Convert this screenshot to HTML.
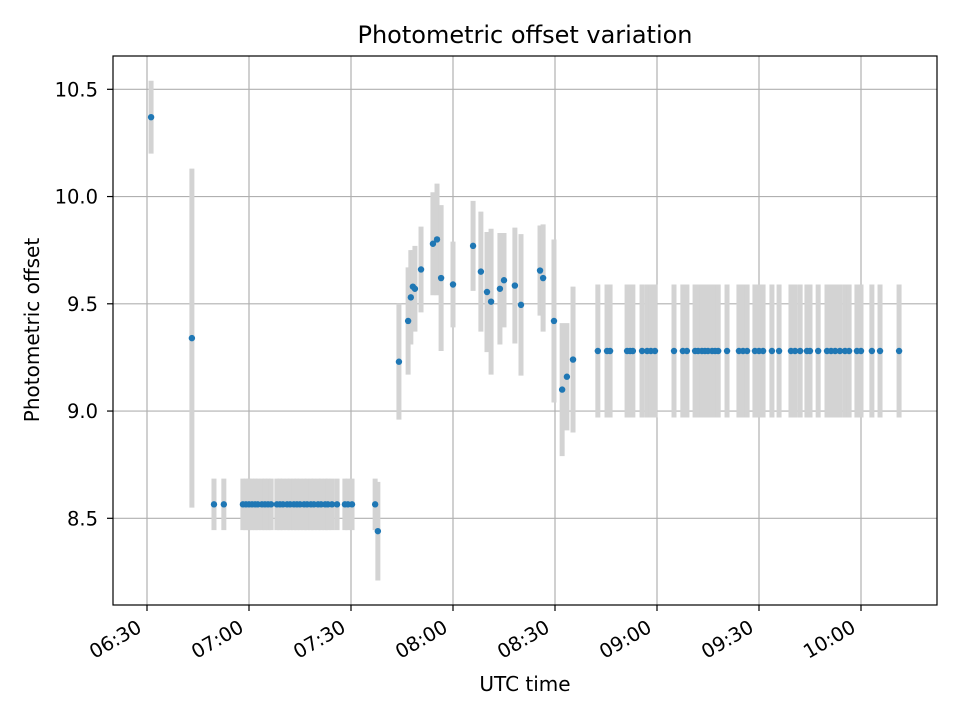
<!DOCTYPE html>
<html><head><meta charset="utf-8"><style>
body{margin:0;background:#fff}
svg text{font-family:"DejaVu Sans","Liberation Sans",sans-serif;fill:#000}
</style></head><body>
<svg id="chart" width="960" height="720" xmlns="http://www.w3.org/2000/svg">
<rect width="960" height="720" fill="#fff"/>
<g id="grid"></g><g id="errs"></g><g id="pts"></g><g id="axes"></g>
</svg>
<script>
// minutes after 06:30 UTC
const times=[1.2,13.2,19.7,22.6,
28.2,29.1,30,30.9,31.8,32.6,33.8,34.7,35.6,36.5,38.2,39.1,40,41.2,42.1,43.2,44.1,45,46.2,47.1,48.2,49.1,50.3,51.2,52.4,53.2,54.4,55.9,58.2,59.1,60.3,
67.1,67.9,
74.1,76.8,77.6,78.2,78.8,80.6,84.1,85.3,86.5,90,95.9,98.2,100,101.2,103.8,105,108.2,110,115.6,116.5,119.7,122.1,123.5,125.3,
132.6,135.3,136.2,141.2,142.1,142.9,145.6,147.1,148.2,149.4,155,157.6,158.8,161.2,162.1,163.2,164.1,165,166.2,167.1,168,170.6,174.1,175.3,176.5,178.8,180,181.2,183.8,185.9,189.4,190.6,192.1,194.1,195,197.4,200,201.2,202.4,203.8,205.3,206.5,208.8,210,213.2,215.6,221.2];
const offsets=[10.37,9.34,8.565,8.565];
const errors=[0.17,0.79,0.12,0.12];
for(let i=0;i<31;i++){offsets.push(8.565);errors.push(0.12);}
offsets.push(8.565,8.44);errors.push(0.12,0.23);
const midVals=[9.23,9.42,9.53,9.58,9.57,9.66,9.78,9.80,9.62,9.59,9.77,9.65,9.555,9.51,9.57,9.61,9.585,9.495,9.655,9.62,9.42,9.10,9.16,9.24];
const midErrs=[0.27,0.25,0.22,0.17,0.2,0.2,0.24,0.26,0.34,0.2,0.21,0.28,0.28,0.34,0.26,0.22,0.27,0.33,0.21,0.25,0.38,0.31,0.25,0.34];
offsets.push(...midVals);errors.push(...midErrs);
while(offsets.length<times.length){offsets.push(9.28);errors.push(0.31);}
const yTicks=[8.5,9.0,9.5,10.0,10.5];
const xTickMins=[0,30,60,90,120,150,180,210];
const xTickLabels=["06:30","07:00","07:30","08:00","08:30","09:00","09:30","10:00"];

const L=113,R=937,T=56,B=605;
const xS=m=>147+m*3.4;
const yS=v=>518.3-(v-8.5)*214.5;
const NS="http://www.w3.org/2000/svg";
function mk(tag,attrs,parent){const e=document.createElementNS(NS,tag);for(const k in attrs)e.setAttribute(k,attrs[k]);parent.appendChild(e);return e;}
const grid=document.getElementById('grid'),errs=document.getElementById('errs'),pts=document.getElementById('pts'),axes=document.getElementById('axes');
xTickMins.forEach((m,i)=>{
  const x=xS(m);
  const g=mk('line',{x1:x,x2:x,y1:T,y2:B,stroke:'#b0b0b0','stroke-width':1.2},grid);
  
  
  const t=mk('line',{x1:x,x2:x,y1:B,y2:B+6,stroke:'#000','stroke-width':1.2},axes);
  
  
  const tx=mk('text',{x:x-4,y:B+26,'text-anchor':'end','font-size':19.5,transform:`rotate(-30 ${x-4} ${B+26})`},axes);
  tx.textContent=xTickLabels[i];
  
  
});
yTicks.forEach(v=>{
  const y=yS(v);
  const g=mk('line',{x1:L,x2:R,y1:y,y2:y,stroke:'#b0b0b0','stroke-width':1.2},grid);
  
  
  const t=mk('line',{x1:L-6,x2:L,y1:y,y2:y,stroke:'#000','stroke-width':1.2},axes);
  
  
  const tx=mk('text',{x:98,y:y+7,'text-anchor':'end','font-size':19.5},axes);
  tx.textContent=v.toFixed(1);
  
  
});
times.forEach((m,i)=>{
  const x=xS(m);
  const e=mk('line',{x1:x,x2:x,y1:yS(offsets[i]+errors[i]),y2:yS(offsets[i]-errors[i]),stroke:'#d3d3d3','stroke-width':5},errs);
  
  
  const c=mk('circle',{cx:x,cy:yS(offsets[i]),r:3.2,fill:'#1f77b4'},pts);
  
  
});
const fr=mk('rect',{x:L,y:T,width:R-L,height:B-T,fill:'none',stroke:'#000','stroke-width':1.2},axes);


const ti=mk('text',{x:(L+R)/2,y:43,'text-anchor':'middle','font-size':24},axes);
ti.textContent='Photometric offset variation';


const xl=mk('text',{x:(L+R)/2,y:691,'text-anchor':'middle','font-size':20},axes);
xl.textContent='UTC time';


const yl=mk('text',{x:39,y:330,'text-anchor':'middle','font-size':20,transform:'rotate(-90 39 330)'},axes);
yl.textContent='Photometric offset';


</script>
</body></html>
